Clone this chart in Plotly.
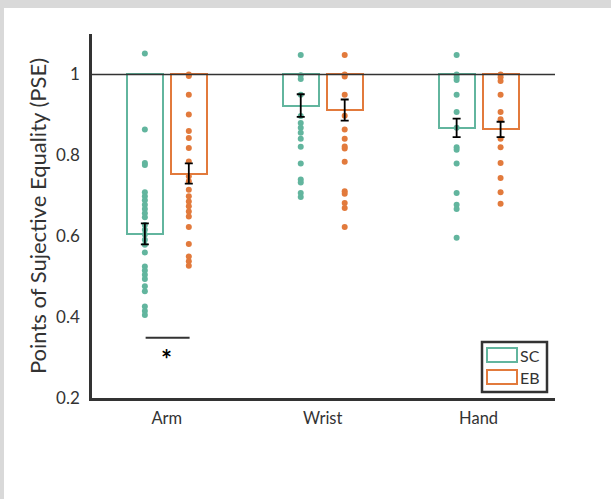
import plotly.graph_objects as go

categories = ["Arm", "Wrist", "Hand"]
groups = ["SC", "EB"]

mean_sc = [0.606, 0.923, 0.868]
mean_eb = [0.755, 0.912, 0.864]
sem_sc = [0.026, 0.028, 0.023]
sem_eb = [0.025, 0.026, 0.019]

dots_arm_sc = [1.052, 0.864, 0.781, 0.776, 0.709, 0.699, 0.689, 0.678, 0.667, 0.657,
               0.647, 0.628, 0.616, 0.604, 0.591, 0.579, 0.560, 0.525, 0.515, 0.505,
               0.494, 0.476, 0.464, 0.426, 0.415, 0.405]
dots_arm_eb = [1.0, 0.996, 0.950, 0.901, 0.860, 0.843, 0.818, 0.785, 0.748, 0.736,
               0.715, 0.699, 0.686, 0.674, 0.661, 0.649, 0.623, 0.581, 0.550, 0.538, 0.527]
dots_wrist_sc = [1.048, 0.998, 0.989, 0.950, 0.897, 0.880, 0.868, 0.856, 0.841, 0.821,
                 0.780, 0.740, 0.733, 0.707, 0.697]
dots_wrist_eb = [1.048, 1.0, 0.995, 0.950, 0.898, 0.864, 0.841, 0.822, 0.817, 0.784,
                 0.711, 0.705, 0.682, 0.670, 0.623]
dots_hand_sc = [1.048, 1.0, 0.993, 0.986, 0.950, 0.907, 0.868, 0.820, 0.814, 0.780,
                0.707, 0.678, 0.667, 0.596]
dots_hand_eb = [1.0, 0.993, 0.984, 0.950, 0.907, 0.889, 0.841, 0.820, 0.781, 0.744,
                0.709, 0.680]

sig_line_y = 0.349
sig_star_y = 0.312

y_ticks = [0.2, 0.4, 0.6, 0.8, 1.0]
y_ticktext = ["0.2", "0.4", "0.6", "0.8", "1"]

C_SC = "#62b59e"
C_EB = "#e27a3c"
AX = "#333333"
FONT = "Lato"

W, H = 611, 499
ML, MR, MT, MB = 92, 56, 34, 101
PW, PH = W - ML - MR, H - MT - MB

off = 0.141
bw = 0.232
x_sc = [i - off for i in range(3)]
x_eb = [i + off for i in range(3)]

fig = go.Figure()

for xs, means, col in [(x_sc, mean_sc, C_SC), (x_eb, mean_eb, C_EB)]:
    fig.add_trace(go.Bar(
        x=xs, y=[m - 1 for m in means], base=1, width=bw,
        marker=dict(color="rgba(255,255,255,0)", line=dict(color=col, width=2)),
        showlegend=False, hoverinfo="skip"))

dot_sets = [
    (x_sc[0], dots_arm_sc, C_SC), (x_eb[0], dots_arm_eb, C_EB),
    (x_sc[1], dots_wrist_sc, C_SC), (x_eb[1], dots_wrist_eb, C_EB),
    (x_sc[2], dots_hand_sc, C_SC), (x_eb[2], dots_hand_eb, C_EB),
]
for xv, vals, col in dot_sets:
    fig.add_trace(go.Scatter(
        x=[xv] * len(vals), y=vals, mode="markers",
        marker=dict(color=col, size=6, line=dict(width=0)),
        showlegend=False, hoverinfo="skip"))

for xs, means, sems in [(x_sc, mean_sc, sem_sc), (x_eb, mean_eb, sem_eb)]:
    fig.add_trace(go.Scatter(
        x=xs, y=means, mode="markers", marker=dict(size=1, color="rgba(0,0,0,0)"),
        error_y=dict(type="data", array=sems, color="black", thickness=1.8, width=4),
        showlegend=False, hoverinfo="skip"))

# reference line at 1
fig.add_shape(type="line", xref="paper", yref="y", x0=0, x1=1, y0=1, y1=1,
              line=dict(color=AX, width=1.5))
# significance
fig.add_shape(type="line", xref="x", yref="y", x0=x_sc[0] + 0.005, x1=x_eb[0] + 0.005,
              y0=sig_line_y, y1=sig_line_y, line=dict(color=AX, width=2))
fig.add_annotation(x=0, y=sig_star_y, xref="x", yref="y", text="<b>*</b>", showarrow=False,
                   font=dict(size=26, color="black", family=FONT), yshift=-6)


def px_x(px):
    return (px - ML) / PW


def px_y(py):
    return 1 - (py - MT) / PH


# white page panel over a gray background (gray strip left and top)
fig.add_shape(type="rect", xref="paper", yref="paper", x0=px_x(4), x1=px_x(W + 2),
              y0=px_y(H + 2), y1=px_y(8), fillcolor="white",
              line=dict(width=0), layer="below")

# legend drawn manually
fig.add_shape(type="rect", xref="paper", yref="paper", x0=px_x(482), x1=px_x(547),
              y0=px_y(392), y1=px_y(342), line=dict(color=AX, width=2.5), fillcolor="white")
for i, (g, col) in enumerate(zip(groups, [C_SC, C_EB])):
    yc = 355 + i * 22
    fig.add_shape(type="rect", xref="paper", yref="paper", x0=px_x(487), x1=px_x(517),
                  y0=px_y(yc + 7), y1=px_y(yc - 7), line=dict(color=col, width=2))
    fig.add_annotation(xref="paper", yref="paper", x=px_x(518), y=px_y(yc), text=g,
                       showarrow=False, xanchor="left", yanchor="middle",
                       font=dict(size=16, color=AX, family=FONT))

fig.update_layout(
    width=W, height=H,
    margin=dict(l=ML, r=MR, t=MT, b=MB),
    paper_bgcolor="#d9d9d9", plot_bgcolor="white",
    barmode="overlay", bargap=0,
    font=dict(family=FONT, size=16, color=AX),
    xaxis=dict(range=[-0.48, 2.49], tickvals=[0, 1, 2], ticktext=categories,
               showline=True, linecolor=AX, linewidth=2.5, showgrid=False,
               zeroline=False, ticks="outside", ticklen=3, tickcolor="rgba(0,0,0,0)",
               tickfont=dict(size=16.5)),
    yaxis=dict(range=[0.2, 1.1], tickvals=y_ticks, ticktext=y_ticktext,
               showline=True, linecolor=AX, linewidth=2.5, showgrid=False,
               zeroline=False, ticks="outside", ticklen=6, tickcolor="rgba(0,0,0,0)",
               tickfont=dict(size=17),
               title=dict(text="Points of Sujective Equality (PSE)",
                          font=dict(size=22, color=AX), standoff=4)),
)

fig.write_html("out.html", config={"displayModeBar": False},
               post_script="document.body.style.margin='0px';")
